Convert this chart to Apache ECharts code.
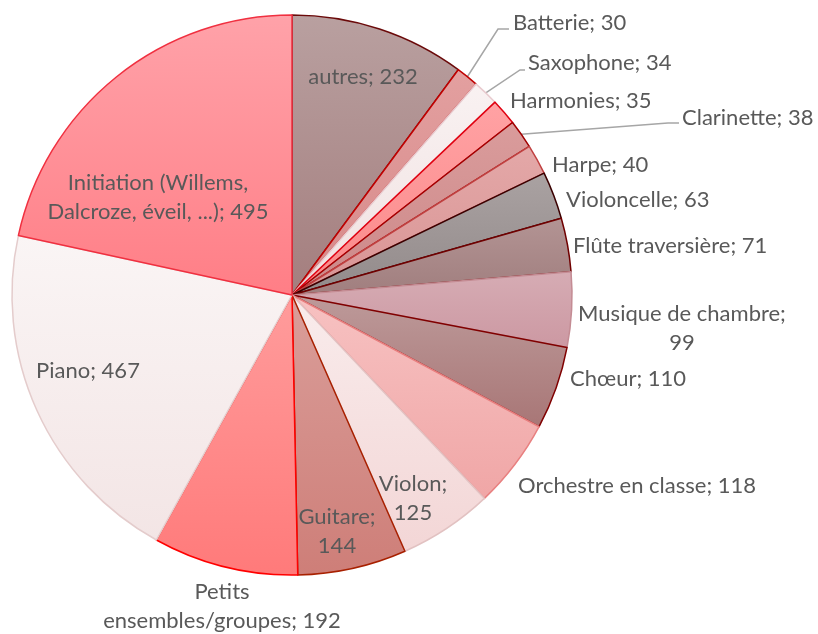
<!DOCTYPE html>
<html>
<head>
<meta charset="utf-8">
<script src="https://cdn.jsdelivr.net/npm/echarts@6/dist/echarts.min.js"></script>
<style>
  html, body { margin: 0; padding: 0; background: #fff; }
  #chart { width: 818px; height: 634px; }
</style>
</head>
<body>
<div id="chart"></div>
<script>
  // slices, clockwise from 12 o'clock
  var names = ['autres', 'Batterie', 'Saxophone', 'Harmonies', 'Clarinette', 'Harpe',
    'Violoncelle', 'Flûte traversière', 'Musique de chambre', 'Chœur', 'Orchestre en classe',
    'Violon', 'Guitare', 'Petits ensembles/groupes', 'Piano', 'Initiation (Willems, Dalcroze, éveil, ...)'];
  var values = [232, 30, 34, 35, 38, 40, 63, 71, 99, 110, 118, 125, 144, 192, 467, 495];

  // top / bottom gradient colour and border per slice
  var topColors = ['#b9a0a0', '#e3a0a0', '#f9f2f2', '#ffa2a4', '#da9c9c', '#e4a8a8', '#aaa2a2', '#b39494',
    '#d6acb4', '#bd9a9a', '#f7c2c2', '#f9ecec', '#da9e9a', '#ff9c9c', '#faf5f5', '#ffa2a9'];
  var bottomColors = ['#a47e7e', '#d68888', '#f0e0e0', '#fb8888', '#cc8888', '#d89494', '#928a8a', '#a07e7e',
    '#cc98a2', '#a87676', '#f0a6a6', '#f3d6d6', '#ce7e78', '#ff7a7a', '#f3e5e5', '#ff7e86'];
  var borderColors = ['#6b0a0a', '#c00000', '#e8cace', '#e00010', '#a00000', '#c04040', '#3a0000', '#700000',
    '#c48c94', '#800000', '#e88080', '#e2c2c2', '#a82000', '#ff0000', '#e4cccc', '#f03040'];

  // where each label line breaks
  var breakAfter = {
    'Initiation (Willems, Dalcroze, éveil, ...)': 'Willems, ',
    'Musique de chambre': '; ',
    'Violon': '; ',
    'Guitare': '; ',
    'Petits ensembles/groupes': 'Petits '
  };
  var withLine = ['Batterie', 'Saxophone', 'Clarinette'];

  // label anchor [x, y, align]
  var labelPos = [
    [363, 77, 'center'], [513, 23, 'left'], [528, 63, 'left'], [510, 101, 'left'],
    [682, 118, 'left'], [552, 165, 'left'], [566, 200, 'left'], [573, 246, 'left'],
    [682, 328, 'center'], [570, 379, 'left'], [518, 486, 'left'], [413, 498, 'center'],
    [337, 531, 'center'], [222, 606, 'center'], [88, 371, 'center'], [158, 197, 'center']
  ];
  var linePts = {
    1: [[498, 29], [509, 29]],
    2: [[520, 70], [525, 70]],
    4: [[668, 123], [679, 123]]
  };

  var data = names.map(function (n, i) {
    return {
      name: n,
      value: values[i],
      itemStyle: {
        color: new echarts.graphic.LinearGradient(0, 0, 0, 1, [
          {offset: 0, color: topColors[i]},
          {offset: 1, color: bottomColors[i]}
        ]),
        borderColor: borderColors[i]
      },
      labelLine: {show: withLine.indexOf(n) >= 0}
    };
  });

  var myChart = echarts.init(document.getElementById('chart'));
  var option = {
    animation: false,
    series: [
      {
        type: 'pie',
        center: [292, 295],
        radius: 280,
        startAngle: 90,
        clockwise: true,
        avoidLabelOverlap: false,
        data: data,
        itemStyle: {borderWidth: 1.5},
        emphasis: {disabled: true},
        label: {
          position: 'outside',
          color: '#595959',
          fontFamily: 'Lato',
          fontSize: 22,
          lineHeight: 29,
          formatter: function (p) {
            var t = p.name + '; ' + p.value;
            var b = breakAfter[p.name];
            if (b) {
              t = t.replace(b, b.replace(/ $/, '') + '\n');
            }
            return t;
          }
        },
        labelLine: {
          show: false,
          lineStyle: {color: '#a6a6a6', width: 1.5}
        },
        labelLayout: function (params) {
          var i = params.dataIndex;
          var p = labelPos[i];
          var res = {x: p[0], y: p[1], align: p[2], verticalAlign: 'middle'};
          if (linePts[i] && params.labelLinePoints) {
            res.labelLinePoints = [params.labelLinePoints[0]].concat(linePts[i]);
          }
          return res;
        }
      }
    ]
  };
  myChart.setOption(option);
</script>
</body>
</html>
